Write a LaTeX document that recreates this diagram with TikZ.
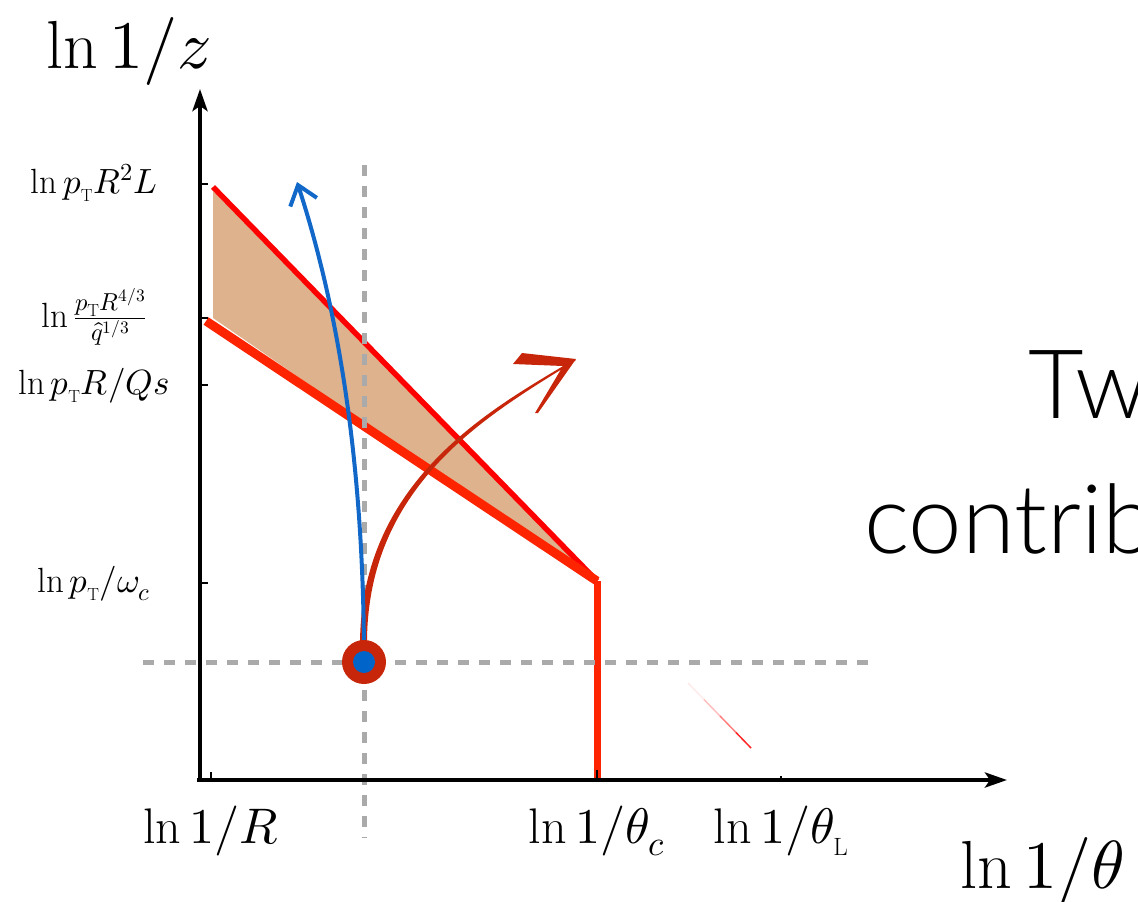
\documentclass[tikz,border=0pt]{standalone}
\usepackage{fontspec}
\usepackage{unicode-math}
\setmathfont{Latin Modern Math}
\newfontfamily\gillfont{Lato Light}
\usetikzlibrary{arrows.meta}
\definecolor{dashgray}{RGB}{170,170,170}
\definecolor{fillbrown}{RGB}{222,178,140}
\definecolor{topred}{RGB}{255,0,0}
\definecolor{lowred}{RGB}{255,36,0}
\definecolor{brushred}{RGB}{200,38,10}
\definecolor{bluepath}{RGB}{18,104,200}
\definecolor{dotblue}{RGB}{0,100,200}
\newcommand{\pT}{p_{\scriptscriptstyle\mathrm{T}}}
\begin{document}
\begin{tikzpicture}[x=1pt,y=-1pt,
  ylab/.style={anchor=base,inner sep=0pt,font=\fontsize{35}{42}\selectfont},
  xlab/.style={anchor=base,inner sep=0pt,font=\fontsize{50}{60}\selectfont},
  biglab/.style={anchor=base west,inner sep=0pt,font=\fontsize{68}{80}\selectfont},
  sanslab/.style={anchor=base west,inner sep=0pt,font=\gillfont\fontsize{96}{110}\selectfont},
  axisline/.style={line width=4pt,black},
  tickline/.style={line width=1.6pt,black},
  graydash/.style={dashgray,line width=5pt,dash pattern=on 11pt off 10pt},
]
\useasboundingbox (0,0) rectangle (1138,902);
\clip (0,0) rectangle (1138,902);

% key points
\coordinate (O) at (200,780);
\coordinate (ytip) at (200,89);
\coordinate (xtip) at (1007,780);
\coordinate (A) at (213,187);
\coordinate (B) at (206,321);
\coordinate (C) at (597,581);
\coordinate (D) at (597,780);
\coordinate (P) at (364,662);
\coordinate (bluetip) at (297,182);
\coordinate (redtip) at (576,359);

% shaded region
\fill[fillbrown] (213,191) -- (597,583) -- (213,318) -- cycle;
% red boundaries
\draw[topred,line width=5.5pt] (A) -- (C);
\draw[lowred,line width=9pt] (B) -- (C);
\draw[lowred,line width=7pt] (C) -- (D);

% faded red stroke
\draw[red,opacity=0.08,line width=1.5pt] (688,683) -- (704,699.5);
\draw[red,opacity=0.25,line width=1.5pt] (704,699.5) -- (720,716);
\draw[red,opacity=0.5,line width=1.5pt] (720,716) -- (736,732.5);
\draw[red,opacity=0.85,line width=1.5pt] (736,732.5) -- (751,748);

% gray dashed guides
\draw[graydash] (364,165) -- (364,838);
\draw[graydash] (143,662) -- (872,662);

% red brush curve with arrow
\fill[brushred] (360,645) .. controls (360,478) and (495,407) .. (575,359)
  -- (575.5,360.5) .. controls (496,411) and (366,480) .. (367,645) -- cycle;
\fill[brushred] (redtip) -- (522,353) -- (513,364) -- (563,366) -- (535,413) -- (538,413) -- cycle;

% blue curve with arrow
\draw[bluepath,line width=4pt,-{Straight Barb[length=18pt,width=28pt]}]
  (P) .. controls (364,480) and (342,320) .. (bluetip);

% emission point
\fill[brushred] (P) circle[radius=22pt];
\fill[dotblue] (P) circle[radius=11pt];

% axes
\draw[axisline,-{Stealth[length=22pt,width=15pt,inset=5pt]}] (197,780) -- (xtip);
\draw[axisline,-{Stealth[length=22pt,width=15pt,inset=5pt]}] (200,782) -- (ytip);

% ticks
\draw[tickline] (200,184) -- (208,184);
\draw[tickline] (200,318) -- (208,318);
\draw[tickline] (200,385) -- (208,385);
\draw[tickline] (200,583) -- (208,583);
\draw[tickline] (211,780) -- (211,772);
\draw[tickline] (597,780) -- (597,770);
\draw[tickline] (781,780) -- (781,776);

% y labels
\node[ylab] (l1) at (94,193) {$\ln \pT R^2 L$};
\node[ylab] (l2) at (94,327) {$\ln \frac{\pT R^{4/3}}{\hat q^{1/3}}$};
\node[ylab] (l3) at (94,394) {$\ln \pT R/Qs$};
\node[ylab] (l4) at (94,592) {$\ln \pT/\omega_c$};

% x labels
\node[xlab] (x1) at (211,843) {$\ln 1/R$};
\node[xlab] (x2) at (597,843) {$\ln 1/\theta_c$};
\node[xlab] (x3) at (781,843) {$\ln 1/\theta_{\scriptscriptstyle\mathrm{L}}$};

% axis titles
\node[biglab] (ztitle) at (46,68) {$\ln 1/z$};
\node[biglab] (ttitle) at (960,888) {$\ln 1/\theta$};

% cut-off side text
\node[sanslab] (two) at (1028,418) {Tw};
\node[sanslab] (contrib) at (864,553) {contrib};
\end{tikzpicture}
\end{document}
